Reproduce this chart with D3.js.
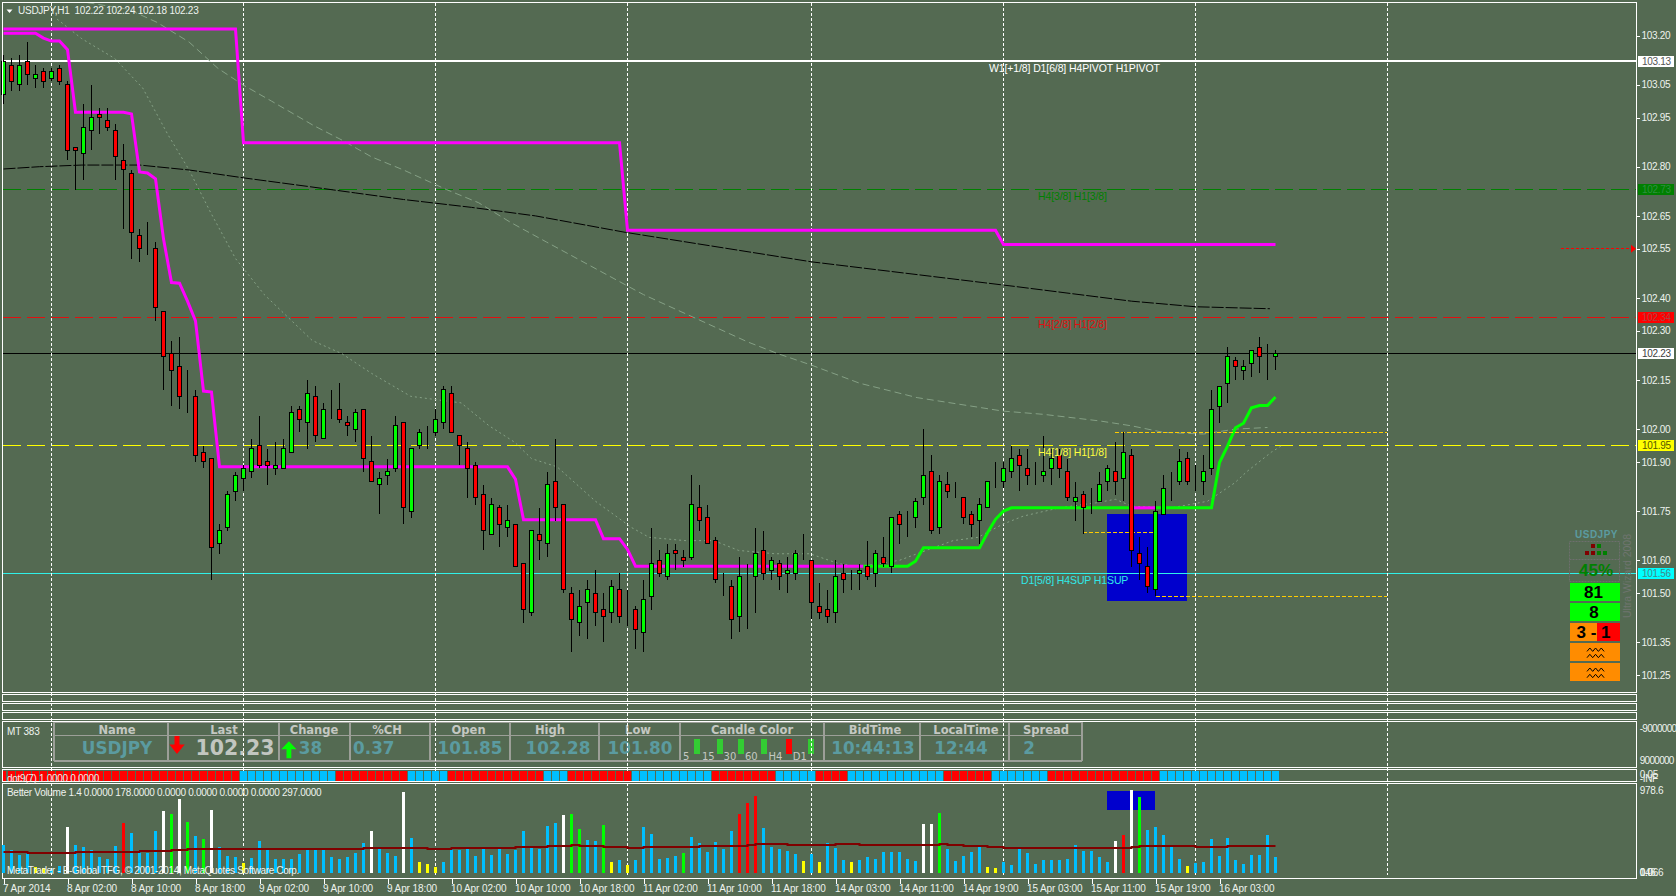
<!DOCTYPE html>
<html><head><meta charset="utf-8">
<style>
html,body{margin:0;padding:0;background:#546a52;overflow:hidden}
svg{display:block;font-family:"Liberation Sans",Arial,sans-serif}
.candle rect,.candle line,.crisp{shape-rendering:crispEdges}
</style>
<script src="https://cdnjs.cloudflare.com/ajax/libs/d3/7.8.5/d3.min.js"></script>
</head><body>
<script>
const opens=[103.02,103.11,103.05,103.12,103.07,103.09,103.07,103.10,103.05,102.86,
102.84,102.91,102.96,102.94,102.91,102.82,102.78,102.59,102.56,102.55,
102.36,102.23,102.19,102.11,102.10,101.93,101.91,101.65,101.70,101.81,
101.85,101.87,101.95,101.90,101.88,101.88,101.93,102.06,102.02,102.10,
101.97,102.05,102.06,102.02,102.00,102.06,101.90,101.83,101.86,101.88,
102.02,101.75,101.95,101.98,101.99,102.02,102.11,101.98,101.94,101.89,
101.80,101.68,101.76,101.70,101.71,101.59,101.44,101.68,101.65,101.84,
101.77,101.50,101.41,101.47,101.50,101.45,101.44,101.51,101.44,101.45,
101.38,101.49,101.60,101.55,101.63,101.61,101.61,101.76,101.73,101.66,
101.53,101.52,101.43,101.54,101.55,101.63,101.57,101.59,101.56,101.56,
101.61,101.60,101.46,101.45,101.44,101.56,101.55,101.56,101.58,101.56,
101.61,101.58,101.74,101.72,101.73,101.79,101.87,101.70,101.83,101.80,
101.79,101.74,101.72,101.76,101.85,101.84,101.87,101.92,101.88,101.85,
101.86,101.88,101.92,101.87,101.78,101.80,101.77,101.78,101.84,101.87,
101.85,101.92,101.62,101.58,101.51,101.74,101.83,101.84,101.91,101.85,
101.84,101.88,102.07,102.14,102.21,102.18,102.20,102.25,102.21,102.22];
const closes=[103.12,103.06,103.11,103.08,103.08,103.06,103.09,103.06,102.85,102.85,
102.92,102.95,102.95,102.92,102.83,102.79,102.60,102.55,102.56,102.37,
102.22,102.18,102.10,102.11,101.92,101.90,101.64,101.69,101.80,101.86,
101.88,101.94,101.89,101.89,101.89,101.94,102.05,102.03,102.11,101.98,
102.06,102.05,102.03,102.01,102.05,101.91,101.84,101.85,101.87,102.01,
101.76,101.94,101.99,101.98,102.03,102.12,101.99,101.95,101.88,101.79,
101.69,101.77,101.71,101.72,101.58,101.45,101.69,101.66,101.83,101.76,
101.51,101.42,101.46,101.51,101.44,101.43,101.52,101.43,101.44,101.39,
101.48,101.59,101.56,101.62,101.62,101.60,101.77,101.72,101.65,101.54,
101.53,101.42,101.55,101.54,101.62,101.56,101.60,101.55,101.57,101.62,
101.61,101.47,101.44,101.43,101.55,101.54,101.55,101.57,101.55,101.62,
101.59,101.73,101.71,101.72,101.78,101.86,101.69,101.84,101.81,101.80,
101.73,101.71,101.77,101.84,101.85,101.88,101.91,101.89,101.86,101.85,
101.87,101.91,101.88,101.79,101.79,101.76,101.77,101.83,101.88,101.84,
101.93,101.63,101.59,101.52,101.75,101.82,101.83,101.90,101.84,101.85,
101.87,102.06,102.13,102.22,102.19,102.19,102.24,102.22,102.21,102.23];
const highs=[103.14,103.13,103.14,103.18,103.11,103.10,103.10,103.11,103.06,102.86,
102.99,103.05,102.98,102.98,102.93,102.87,102.79,102.61,102.63,102.57,
102.36,102.27,102.28,102.18,102.12,101.95,101.91,101.71,101.81,101.87,
101.89,101.97,102.04,101.94,101.96,101.97,102.07,102.07,102.15,102.13,
102.08,102.12,102.14,102.04,102.06,102.06,101.98,101.87,101.91,102.04,
102.02,101.94,102.00,102.01,102.06,102.13,102.13,101.98,101.96,101.90,
101.83,101.79,101.77,101.77,101.71,101.59,101.69,101.76,101.87,101.97,
101.77,101.52,101.51,101.54,101.57,101.50,101.54,101.56,101.51,101.46,
101.54,101.70,101.63,101.65,101.65,101.63,101.86,101.83,101.77,101.67,
101.56,101.54,101.61,101.59,101.70,101.69,101.61,101.60,101.61,101.63,
101.68,101.60,101.53,101.51,101.60,101.59,101.57,101.59,101.66,101.63,
101.67,101.73,101.75,101.75,101.79,102.00,101.92,101.86,101.87,101.84,
101.79,101.75,101.79,101.84,101.90,101.90,101.95,101.94,101.94,101.90,
101.98,101.94,101.94,101.91,101.84,101.81,101.82,101.87,101.89,101.96,
101.99,101.94,101.67,101.64,101.78,101.86,101.87,101.94,101.93,101.89,
101.92,102.12,102.13,102.25,102.22,102.21,102.24,102.28,102.26,102.24];
const lows=[102.99,103.03,103.03,103.05,103.04,103.04,103.06,103.05,102.82,102.73,
102.76,102.85,102.90,102.91,102.76,102.61,102.52,102.51,102.53,102.33,
102.12,102.07,102.06,102.05,101.90,101.88,101.54,101.62,101.69,101.78,
101.81,101.85,101.88,101.83,101.86,101.88,101.93,101.99,101.94,101.96,
101.97,102.03,102.02,101.98,101.96,101.87,101.84,101.74,101.83,101.87,
101.71,101.73,101.94,101.94,101.98,102.00,101.99,101.89,101.79,101.77,
101.63,101.68,101.64,101.67,101.58,101.41,101.43,101.60,101.61,101.72,
101.50,101.32,101.37,101.36,101.40,101.35,101.41,101.41,101.40,101.33,
101.32,101.45,101.55,101.54,101.57,101.58,101.60,101.69,101.65,101.53,
101.49,101.36,101.38,101.39,101.44,101.54,101.54,101.51,101.50,101.54,
101.60,101.42,101.42,101.41,101.41,101.50,101.51,101.51,101.54,101.52,
101.58,101.56,101.65,101.67,101.70,101.77,101.68,101.68,101.79,101.79,
101.71,101.67,101.65,101.76,101.82,101.82,101.85,101.81,101.83,101.83,
101.84,101.83,101.85,101.78,101.72,101.68,101.74,101.78,101.81,101.80,
101.78,101.58,101.54,101.50,101.49,101.74,101.78,101.83,101.83,101.81,
101.80,101.86,102.02,102.08,102.15,102.15,102.16,102.17,102.15,102.18];
const stepUpperBars=[0,29,30,77,78,124,125,159];
const stepUpperPrices=[103.22,103.22,102.873,102.873,102.606,102.606,102.563,102.563];
const trendBars=[0,4,5,6,7,8,9,15,16,17,18,19,20,21,22,23,24,25,26,27,63,64,65,74,75,77,78,79,113,114,115,122,123,124,125,126,151,152,153,154,155,156,157,158,159];
const trendPrices=[103.207,103.207,103.192,103.183,103.183,103.157,102.966,102.966,102.961,102.784,102.781,102.763,102.58,102.447,102.445,102.39,102.33,102.116,102.113,101.885,101.885,101.847,101.724,101.724,101.666,101.666,101.633,101.582,101.582,101.597,101.638,101.638,101.684,101.725,101.75,101.76,101.76,101.898,101.948,102.004,102.018,102.065,102.072,102.072,102.098];
const trendColorRuns=[[0,107.5,"#ff00ff"],[107.5,141,"#00ff00"],[141,144,"#ff00ff"],[144,159,"#00ff00"]];
const fastMaBars=[6.7,9.8,13.9,17.4,20.5,23.2,25.9,29,32.6,38.6,42.3,46,50.9,54,57.2,60.7,63.9,66,69.2,74,78.5,80.7,85.2,88.8,91.9,96.4,100.8,104.4,107,112,114.2,118.7,121.8,124.9,127.5,132,136.5,139,141,146,150.5,153.9,155.4,158.5,159.8];
const fastMaPrices=[103.25,103.19,103.13,103.04,102.90,102.79,102.66,102.52,102.41,102.27,102.23,102.17,102.10,102.09,102.08,102.01,101.96,101.91,101.885,101.78,101.70,101.67,101.66,101.66,101.63,101.62,101.62,101.59,101.58,101.60,101.62,101.66,101.67,101.71,101.735,101.76,101.775,101.786,101.765,101.76,101.78,101.836,101.87,101.93,101.95];
const slowMaBars=[10.5,15.6,19.2,23.2,26.8,29.9,33.5,38.8,42.4,46,50,55.4,59.4,63.4,67.9,80,93,96.8,101,107,114.2,124.9,130,137,141,145,150,154,158];
const slowMaPrices=[103.30,103.28,103.24,103.18,103.10,103.05,103.0,102.925,102.88,102.83,102.79,102.73,102.69,102.63,102.57,102.41,102.266,102.23,102.195,102.14,102.096,102.055,102.045,102.025,102.01,101.99,101.985,102.0,102.005];
const blackMaBars=[0,4.5,9.8,17,23.2,30,38,44,50,58.5,66.5,77.7,101,126.4,141,149,158.3];
const blackMaPrices=[102.793,102.80,102.805,102.805,102.79,102.766,102.74,102.72,102.70,102.676,102.65,102.60,102.51,102.435,102.39,102.373,102.367];
const levelPrices=[103.122,102.73,102.34,102.23,101.95,101.56];
const levelTags=["103.13","102.73","102.34","102.23","101.95","101.56"];
const levelColors=["#ffffff","#008000","#e01010","#000000","#ffff00","#30f0e8"];
const levelTagFills=["#ffffff","#008000","#ff0000","#ffffff","#ffff00","#00ffff"];
const levelTagText=["#555555","#2f8f3f","#b04040","#404040","#555500","#408888"];
const levelDash=[null,"18,6","18,6",null,"18,6",null];
const levelWidth=[2,1,1,1,1,1];
const pivotTexts=["W1[+1/8] D1[6/8] H4PIVOT H1PIVOT","H4[3/8] H1[3/8]","H4[2/8] H1[2/8]","H4[1/8] H1[1/8]","D1[5/8] H4SUP H1SUP"];
const pivotPrices=[103.102,102.712,102.32,101.93,101.54];
const pivotColors=["#ffffff","#008000","#e01010","#ffff40","#30e8e8"];
const rangeStarts=[1115,1083,1156];
const rangeEnds=[1387,1153,1387];
const rangePrices=[101.99,101.686,101.49];
const priceTicks=[103.20,103.05,102.95,102.80,102.65,102.55,102.40,102.30,102.15,102.00,101.90,101.75,101.60,101.50,101.35,101.25];
const gridBars=[6,30,54,78,101,125,149,173];
const timeTickBars=[0,8,16,24,32,40,48,56,64,72,80,88,96,104,112,120,128,136,144,152];
const timeLabels=["7 Apr 2014","8 Apr 02:00","8 Apr 10:00","8 Apr 18:00","9 Apr 02:00","9 Apr 10:00","9 Apr 18:00","10 Apr 02:00","10 Apr 10:00","10 Apr 18:00","11 Apr 02:00","11 Apr 10:00","11 Apr 18:00","14 Apr 03:00","14 Apr 11:00","14 Apr 19:00","15 Apr 03:00","15 Apr 11:00","15 Apr 19:00","16 Apr 03:00"];
const dotRuns=[30,12,9,5,12,3,8,10,8,5,4,12,6,7,14,15];
const volumes=[330,271,211,251,64,52,32,80,545,330,306,271,187,163,318,593,474,271,235,498,
736,700,880,605,438,402,748,306,199,187,115,175,378,271,163,163,163,223,271,271,
271,187,163,187,235,354,498,283,235,199,963,414,127,103,68,127,283,271,283,199,
283,211,283,223,271,498,295,283,557,593,689,700,521,390,378,569,127,151,92,151,
545,462,163,175,199,235,426,354,247,366,283,498,700,832,915,533,306,283,259,223,
139,223,127,354,295,151,127,151,187,163,247,247,247,163,139,581,581,712,283,139,
199,247,306,68,56,127,92,283,235,103,151,151,151,163,330,259,259,187,127,378,
450,990,903,509,545,450,306,163,80,115,127,402,199,414,151,103,211,211,450,187];
const volumeClass=("bbbbyybbwb"+"bbbbbrbbbb"+"wgwgbgwbbb"+"ybbbbbbbbb"+"bbbbbbwbbb"+"wbyyybbbbb"+"bbbbbbbbbb"+"wggbbgybyb"+"bbbbbgbbbb"+"bbrrrbbbbb"+"ybybbbybbb"+"bbbbbwwgbb"+"bbbyybbbbb"+"bbbbbbbbbw"+"rwgbbbbbyb"+"bbbbbbbbbb").split("");
const volumeColors={b:"#00bfff",y:"#ffff00",w:"#ffffff",r:"#ff0000",g:"#00ff00"};
const volAvgStarts=[0,3,9,17,21,23,45,53,56,64,68,71,72,75,78,80,87,93,94,98,104,107,117,118,120,123,125,141,142,149,153,159];
const volAvgValues=[247,235,247,259,271,283,295,283,295,306,318,330,318,306,295,306,318,330,342,330,342,330,342,330,318,306,295,306,318,306,318,318];
const tableEdges=[53.5,168,278.5,350,430,510,599,679.6,824,920,1009,1082];
const tableHeaders=["Name","Last","Change","%CH","Open","High","Low","Candle Color","BidTime","LocalTime","Spread"];
const tableHeaderX=[117,224,314,387,468.6,550,638,752,875,966,1046];
const tableValues=["USDJPY","102.23","38","0.37","101.85","102.28","101.80","10:44:13","12:44","2"];
const tableValueX=[117,235,310.5,373.8,470,558,640,873,961,1029];
const candleColorLabels=["5","15","30","60","H4","D1"];
const candleColorLabelX=[683,702,723.6,745,768.6,792.8];
const candleColorBarX=[694,717,738,761,786.4,808.2];
const candleColorBars=["#33cc33","#33cc33","#33cc33","#33cc33","#ff0000","#33cc33"];

const W=1676,H=896,BG="#546a52";
const svg=d3.select("body").append("svg").attr("width",W).attr("height",H);
svg.append("rect").attr("width",W).attr("height",H).attr("fill",BG);
const x=d3.scaleLinear().domain([0,8]).range([3.5,67.5]);
const xv=i=>x(i);
const y=d3.scaleLinear().domain([101.95,102.95]).range([445.5,117.5]);
const vy=d3.scaleLinear().domain([0,978.6]).range([872.7,790.7]);
const bars=d3.range(opens.length);
const txt=(p,s,px,py,o={})=>p.append("text").attr("x",px).attr("y",py).attr("fill",o.c||"#eef3ee")
 .attr("font-size",o.s||10).attr("font-weight",o.b?"bold":null).attr("text-anchor",o.a||"start")
 .attr("font-family",o.f||null).attr("dominant-baseline","central").attr("letter-spacing",o.ls||null).text(s);

// objects behind the price
const back=svg.append("g");
back.append("rect").attr("x",1107).attr("y",514).attr("width",80).attr("height",87).attr("fill","#0000cd");
back.append("rect").attr("x",1107).attr("y",791).attr("width",48).attr("height",19).attr("fill","#0000cd");

// info table pane
const tbl=svg.append("g");
txt(tbl,"MT 383",7,731,{c:"#eef3ee",ls:"-0.2px"});
tbl.selectAll("line.v").data(tableEdges).join("line").attr("class","crisp").attr("x1",d=>d).attr("x2",d=>d).attr("y1",722).attr("y2",761).attr("stroke","#9c9f98").attr("stroke-width",2);
[722,735.5,761].forEach(v=>tbl.append("line").attr("class","crisp").attr("x1",53.5).attr("x2",1082).attr("y1",v).attr("y2",v).attr("stroke","#9c9f98").attr("stroke-width",v==722?1:1.5));
tableHeaders.forEach((t,i)=>txt(tbl,t,tableHeaderX[i],729.5,{f:"DejaVu Sans",b:1,s:11.5,a:"middle",c:"#c4c8c2"}));
tableValues.forEach((t,i)=>txt(tbl,t,tableValueX[i],748,{f:"DejaVu Sans",b:1,s:i==1?20.5:16.8,a:"middle",c:i==1?"#c2c6c0":"#5b9ba0"}));
tbl.append("path").attr("d","M174.5,736h5v8.5h5.2L177,754l-7.6,-9.5h5.1z").attr("fill","#ff0000");
tbl.append("path").attr("d","M286.5,758.3v-9h-5.2l7.6,-8l7.6,8h-5.2v9z").attr("fill","#00ff00");
candleColorLabels.forEach((t,i)=>{txt(tbl,t,candleColorLabelX[i],756,{c:"#c4c8c2",s:10,f:"DejaVu Sans"});
 tbl.append("rect").attr("class","crisp").attr("x",candleColorBarX[i]).attr("y",739).attr("width",6).attr("height",15).attr("fill",candleColorBars[i]);});

// horizontal levels
const levels=svg.append("g");
levelPrices.forEach((p,i)=>levels.append("line").attr("class","crisp").attr("x1",3).attr("x2",1636).attr("y1",y(p)).attr("y2",y(p))
 .attr("stroke",levelColors[i]).attr("stroke-width",levelWidth[i]).attr("stroke-dasharray",levelDash[i]));

// vertical grid
svg.append("g").selectAll("line").data(gridBars).join("line").attr("class","crisp")
 .attr("x1",d=>xv(d)).attr("x2",d=>xv(d)).attr("y1",3).attr("y2",875)
 .attr("stroke","#ffffff").attr("stroke-width",1).attr("stroke-dasharray","3,2");

// moving averages
const lineGen=d3.line().x(d=>xv(d[0])).y(d=>y(d[1]));
const mas=svg.append("g").attr("fill","none");
mas.append("path").attr("d",lineGen(fastMaBars.map((b,i)=>[b,fastMaPrices[i]]))).attr("stroke","#85a085").attr("stroke-width",1).attr("stroke-dasharray","2,3");
mas.append("path").attr("d",lineGen(slowMaBars.map((b,i)=>[b,slowMaPrices[i]]))).attr("stroke","#85a085").attr("stroke-width",1).attr("stroke-dasharray","7,4");
mas.append("path").attr("d",lineGen(blackMaBars.map((b,i)=>[b,blackMaPrices[i]]))).attr("stroke","#000000").attr("stroke-width",1).attr("stroke-dasharray","12,2");

// step lines
const thick=svg.append("g").attr("fill","none").attr("stroke-width",3);
thick.append("path").attr("d",lineGen(stepUpperBars.map((b,i)=>[b,stepUpperPrices[i]]))).attr("stroke","#ff00ff");
const trendPts=trendBars.map((b,i)=>[b,trendPrices[i]]);
const valAt=b=>{const j=d3.bisectLeft(trendBars,b);if(trendBars[j]===b)return trendPrices[j];
 const t=(b-trendBars[j-1])/(trendBars[j]-trendBars[j-1]);return trendPrices[j-1]+t*(trendPrices[j]-trendPrices[j-1]);};
trendColorRuns.forEach(r=>{const pts=[[r[0],valAt(r[0])],...trendPts.filter(d=>d[0]>r[0]&&d[0]<r[1]),[r[1],valAt(r[1])]];
 thick.append("path").attr("d",lineGen(pts)).attr("stroke",r[2]);});

// orange range lines & forecast mark
const dashes=svg.append("g").attr("class","crisp").attr("stroke","#ffcc00").attr("stroke-dasharray","4,2");
rangePrices.forEach((p,i)=>dashes.append("line").attr("x1",rangeStarts[i]).attr("x2",rangeEnds[i]).attr("y1",y(p)).attr("y2",y(p)));
svg.append("line").attr("class","crisp").attr("x1",1561).attr("x2",1631).attr("y1",y(102.55)).attr("y2",y(102.55)).attr("stroke","#ff0000").attr("stroke-dasharray","3,2");
svg.append("path").attr("d",`M1631,${y(102.55)-4}L1636,${y(102.55)}L1631,${y(102.55)+4}Z`).attr("fill","#ff0000");

// candles
const candle=svg.append("g").attr("class","candle").selectAll("g").data(bars).join("g");
candle.append("line").attr("x1",d=>xv(d)).attr("x2",d=>xv(d)).attr("y1",d=>y(highs[d])).attr("y2",d=>y(lows[d])).attr("stroke","#000");
candle.append("rect").attr("x",d=>xv(d)-2).attr("width",4)
 .attr("y",d=>y(Math.max(opens[d],closes[d]))).attr("height",d=>Math.abs(y(opens[d])-y(closes[d])))
 .attr("fill",d=>closes[d]>opens[d]?"#00ff00":"#ff0000").attr("stroke","#000");

// pivot labels
pivotTexts.forEach((t,i)=>txt(svg,t,i==0?989:i==4?1021:1038,y(pivotPrices[i]),{c:pivotColors[i],s:10.5,ls:"-0.12px"}));

// title
svg.append("path").attr("d","M6.5,9.5h6l-3,3.5z").attr("fill","#fff");
txt(svg,"USDJPY,H1  102.22 102.24 102.18 102.23",18,10.5,{s:10,ls:"-0.25px"}).style("white-space","pre");

// pane frames
const frames=svg.append("g").attr("class","crisp").attr("fill","none").attr("stroke","#ffffff");
[[2.5,692.5],[694.5,701.5],[703.5,710.5],[712.5,719.5],[721.5,767.5],[769.5,781.5],[783.5,878.5]].forEach(f=>
 frames.append("rect").attr("x",2.5).attr("y",f[0]).attr("width",1634).attr("height",f[1]-f[0]));

// price axis
const axisG=svg.append("g").attr("transform","translate(1636.5,0)").call(d3.axisRight(y).tickValues(priceTicks).tickFormat(d3.format(".2f")).tickSize(3).tickPadding(2));
axisG.select(".domain").remove();
axisG.selectAll("line").attr("stroke","#fff").attr("shape-rendering","crispEdges");
axisG.selectAll("text").attr("fill","#eef3ee").attr("font-size",10).attr("font-family",null).attr("letter-spacing","-0.3px");

// level tags
levelPrices.forEach((p,i)=>{const c=y(p);
 svg.append("rect").attr("class","crisp").attr("x",1638).attr("y",c-5.5).attr("width",36).attr("height",11).attr("fill",levelTagFills[i]);
 txt(svg,levelTags[i],1642,c,{c:levelTagText[i],ls:"-0.3px"});});

// signal widget
const wg=svg.append("g");
txt(wg,"USDJPY",1596.5,534.7,{c:"#5b9ba0",b:1,s:10,a:"middle",ls:"0.5px"});
wg.append("rect").attr("x",1569.5).attr("y",541.5).attr("width",50).attr("height",40).attr("fill","none").attr("stroke","#6d6f6d").attr("stroke-dasharray","2,1");
wg.append("line").attr("x1",1569.5).attr("x2",1619.5).attr("y1",559.5).attr("y2",559.5).attr("stroke","#6d6f6d").attr("stroke-dasharray","2,1");
[[1591,544,"#800000"],[1596.5,544,"#008000"],[1585,551,"#800000"],[1591,551,"#800000"],[1596.5,551,"#008000"],[1602.5,551,"#008000"]].forEach(s=>
 wg.append("rect").attr("class","crisp").attr("x",s[0]).attr("y",s[1]).attr("width",4).attr("height",4).attr("fill",s[2]));
txt(wg,"45%",1596,570.5,{c:"#008000",b:1,s:17,a:"middle"});
txt(wg,"Ultra Wizard 2008",0,0,{c:"#6f756f",s:10.5}).attr("transform","translate(1627,618) rotate(-90)");
[[583,"#00ff00"],[603,"#00ff00"],[623,"#ff8c00"],[643,"#ff8c00"],[663,"#ff8c00"]].forEach(b=>
 wg.append("rect").attr("class","crisp").attr("x",1570).attr("y",b[0]).attr("width",50).attr("height",18).attr("fill",b[1]));
wg.append("rect").attr("class","crisp").attr("x",1597).attr("y",623).attr("width",23).attr("height",18).attr("fill","#ff0000");
txt(wg,"81",1593.5,592.5,{c:"#000",b:1,s:17,a:"middle"});
txt(wg,"8",1594,612.5,{c:"#000",b:1,s:17,a:"middle"});
txt(wg,"3 - 1",1593.5,632.5,{c:"#000",b:1,s:17,a:"middle"});
[648,654.3,668,674.3].forEach(t=>{
 const z=d3.range(0,7).map(k=>[1587+k*2.85,t+(k%2?0:3.4)]);
 wg.append("path").attr("d",d3.line()(z)).attr("fill","none").attr("stroke","#000").attr("stroke-width",1);});

// dots pane
const dotColors=["#ff0000","#00bfff"];
const dotBars=[];dotRuns.forEach((n,r)=>{for(let k=0;k<n;k++)dotBars.push(r%2);});
svg.append("g").attr("class","crisp").selectAll("rect").data(dotBars).join("rect")
 .attr("x",(d,i)=>Math.max(3,xv(i)-3.5)).attr("width",(d,i)=>i==0?3:7).attr("y",771).attr("height",9.5).attr("fill",d=>dotColors[d]);
txt(svg,"dot9(7) 1.0000 0.0000",7,778.5,{c:"#f6e8e8",ls:"-0.3px"});

// volume pane
txt(svg,"Better Volume 1.4 0.0000 178.0000 0.0000 0.0000 0.0000 0.0000 297.0000",7,792.7,{ls:"-0.3px"});
svg.append("g").attr("class","crisp").selectAll("rect").data(bars).join("rect")
 .attr("x",d=>xv(d)-1.5).attr("width",3).attr("y",d=>vy(volumes[d])).attr("height",d=>vy(0)-vy(volumes[d]))
 .attr("fill",d=>volumeColors[volumeClass[d]]);
svg.append("path").attr("d",d3.line().curve(d3.curveStepAfter).x(d=>xv(d[0])).y(d=>vy(d[1]))(volAvgStarts.map((b,i)=>[b,volAvgValues[i]])))
 .attr("fill","none").attr("stroke","#800000").attr("stroke-width",2);
txt(svg,"MetaTrader - E-Global TFG, © 2001-2014, MetaQuotes Software Corp.",7,870.7,{ls:"-0.35px"});

// side labels of the lower panes
[["-9000000",728,"-0.7px"],["9000000",760,"-0.7px"],["0.05",774.5,"-0.3px"],["-INF",778,"-0.3px"],["978.6",790.7,"-0.3px"],["0.0",872.5,"-0.3px"],["146.6",872.5,"-0.3px"],["0.06",872.5,"-0.3px"]].forEach(l=>txt(svg,l[0],1639.7,l[1],{ls:l[2]}));

// time axis
const tAxis=svg.append("g").attr("transform","translate(0,878.5)").call(d3.axisBottom(x).tickValues(timeTickBars).tickFormat((d,i)=>timeLabels[i]).tickSize(5).tickPadding(1.5));
tAxis.select(".domain").remove();
tAxis.selectAll("line").attr("stroke","#fff").attr("shape-rendering","crispEdges");
tAxis.selectAll("text").attr("fill","#eef3ee").attr("font-size",10).attr("font-family",null).attr("text-anchor","start").attr("dx",-1).attr("letter-spacing","-0.1px");
</script>
</body></html>
